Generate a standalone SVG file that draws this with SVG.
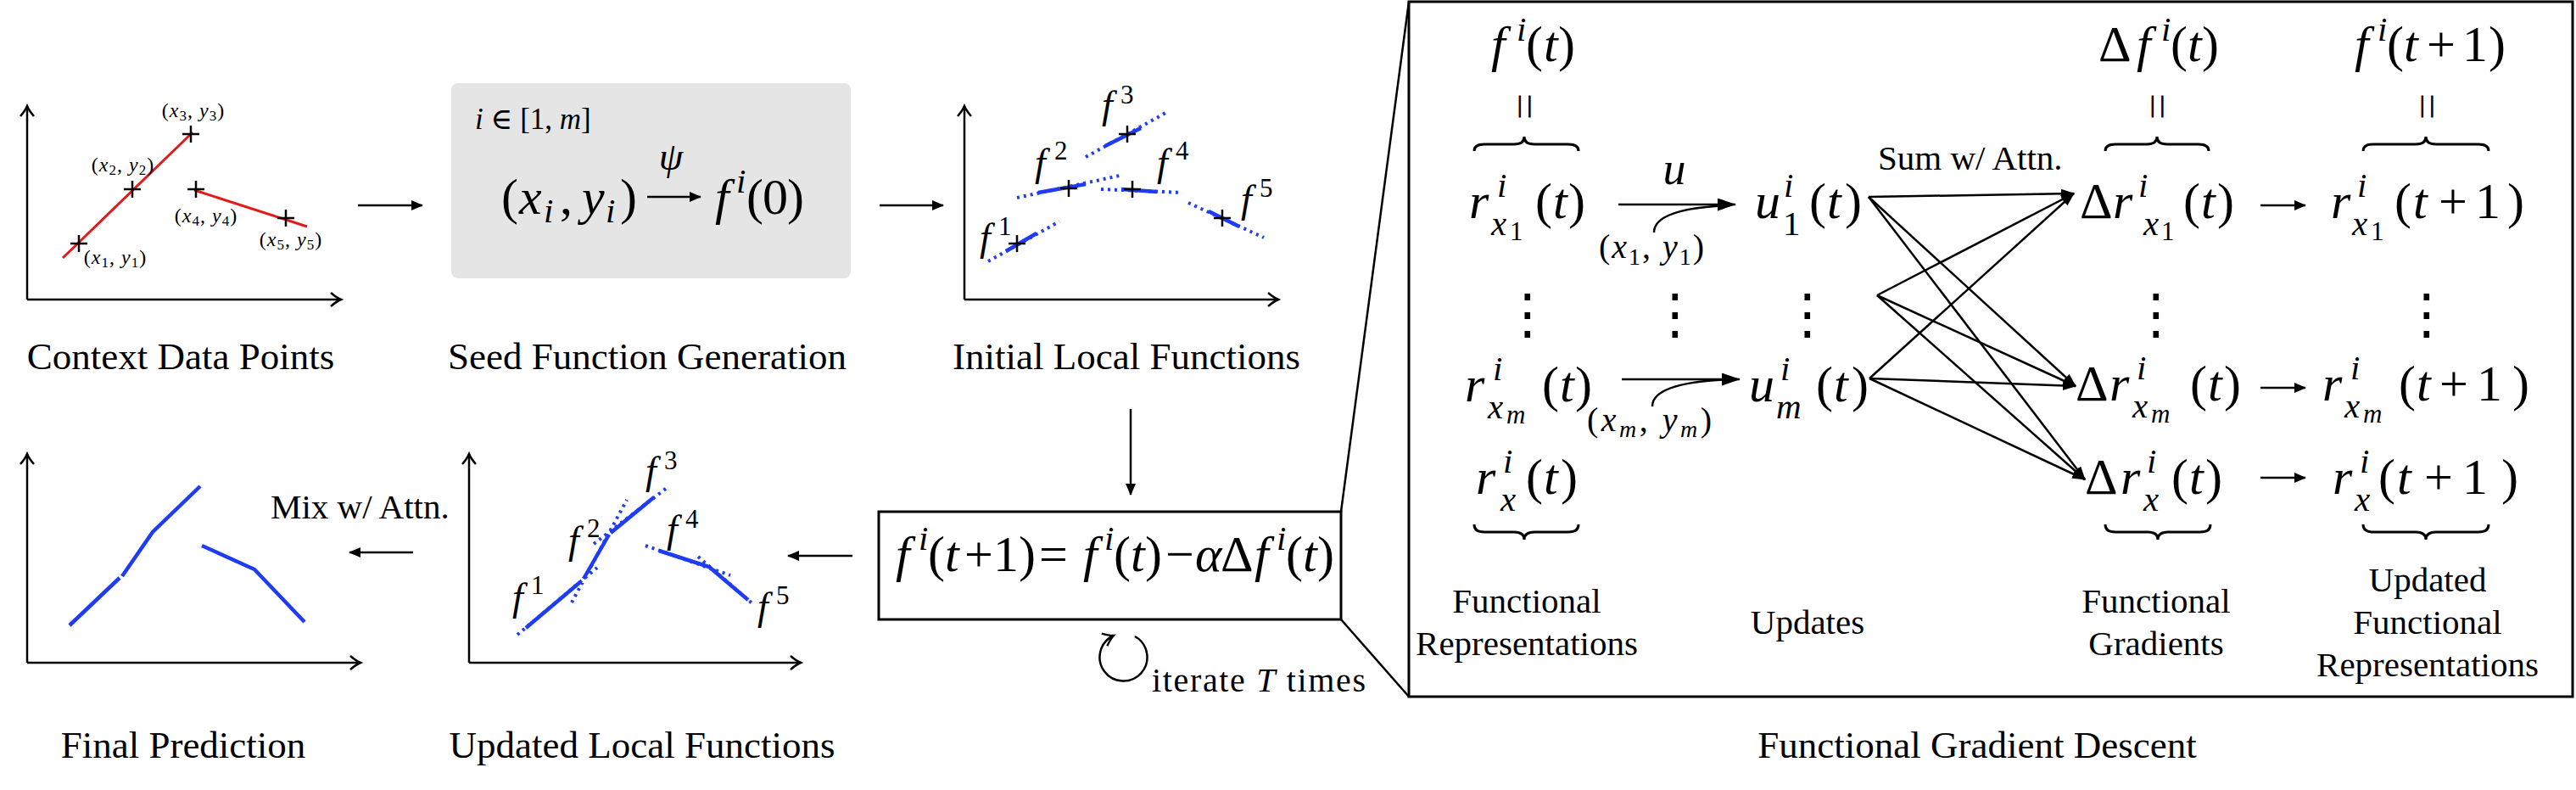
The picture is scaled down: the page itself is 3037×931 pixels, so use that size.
<svg xmlns="http://www.w3.org/2000/svg" width="3037" height="931" viewBox="0 0 3037 931">
<defs>
<style>
.t{font-family:"Liberation Serif","DejaVu Serif",serif;fill:#000}
.lbl{font-size:45px}
.lb41{font-size:41px}
.m{font-size:60px}
.s{font-size:41px}
.ss{font-size:31px}
.mi{font-style:italic}
.ax{stroke:#000;stroke-width:2.5;fill:none;marker-end:url(#axh)}
.ln{stroke:#000;stroke-width:2.5;fill:none}
.cr{stroke:#000;stroke-width:2.5;fill:none}
.red{stroke:#e31a1a;stroke-width:3;fill:none}
.dot{stroke:#1f3cf5;stroke-width:4;stroke-dasharray:3 5;fill:none}
.sol{stroke:#1f3cf5;stroke-width:4.5;fill:none}
.brace{stroke:#000;stroke-width:3;fill:none}
.vd{font-family:"DejaVu Sans",sans-serif;font-size:64px}
.par{font-family:"Liberation Serif",serif;font-size:28px;letter-spacing:6px;stroke:#000;stroke-width:1}
</style>
<marker id="axh" viewBox="-14 -10 16 20" refX="0" refY="0" markerWidth="16" markerHeight="20" markerUnits="userSpaceOnUse" orient="auto" overflow="visible"><path d="M-12,-8 Q-5,-2 0,0 Q-5,2 -12,8" fill="none" stroke="#000" stroke-width="2.5"/></marker>
<marker id="ah" viewBox="0 0 14 12" refX="13" refY="6" markerWidth="14" markerHeight="12" markerUnits="userSpaceOnUse" orient="auto"><path d="M0,0 L14,6 L0,12 Z" fill="#000"/></marker>
<marker id="ahL" viewBox="0 0 22 15" refX="21" refY="7.5" markerWidth="22" markerHeight="15" markerUnits="userSpaceOnUse" orient="auto"><path d="M0,0 L22,7.5 L0,15 Z" fill="#000"/></marker>
<marker id="ahS" viewBox="0 0 16 11" refX="15" refY="5.5" markerWidth="16" markerHeight="11" markerUnits="userSpaceOnUse" orient="auto"><path d="M0,0 L16,5.5 L0,11 Z" fill="#000"/></marker>
<marker id="ahO" viewBox="-14 -10 16 20" refX="0" refY="0" markerWidth="16" markerHeight="20" markerUnits="userSpaceOnUse" orient="auto" overflow="visible"><path d="M-12,-8 Q-5,-2 0,0 Q-5,2 -12,8" fill="none" stroke="#000" stroke-width="2.5"/></marker>
</defs>
<rect x="0" y="0" width="3037" height="931" fill="#fff"/>

<!-- Context Data Points -->
<g id="plot-context">
<path class="ax" d="M32,353 V125"/>
<path class="ax" d="M32,353 H402"/>
<path class="red" d="M74,304 L227,156"/>
<path class="red" d="M229,224 L362,267"/>
<path class="cr" d="M83,287 h20 M93,277 v20 M146,223 h20 M156,213 v20 M215,158 h20 M225,148 v20 M221,223 h20 M231,213 v20 M327,257 h20 M337,247 v20"/>
<g class="t" font-size="24" text-anchor="middle" letter-spacing="1">
<text x="228" y="138">(<tspan font-style="italic">x</tspan><tspan dy="4" font-size="17">3</tspan><tspan dy="-4">, </tspan><tspan font-style="italic">y</tspan><tspan dy="4" font-size="17">3</tspan><tspan dy="-4">)</tspan></text>
<text x="145" y="202">(<tspan font-style="italic">x</tspan><tspan dy="4" font-size="17">2</tspan><tspan dy="-4">, </tspan><tspan font-style="italic">y</tspan><tspan dy="4" font-size="17">2</tspan><tspan dy="-4">)</tspan></text>
<text x="243" y="262">(<tspan font-style="italic">x</tspan><tspan dy="4" font-size="17">4</tspan><tspan dy="-4">, </tspan><tspan font-style="italic">y</tspan><tspan dy="4" font-size="17">4</tspan><tspan dy="-4">)</tspan></text>
<text x="136" y="311">(<tspan font-style="italic">x</tspan><tspan dy="4" font-size="17">1</tspan><tspan dy="-4">, </tspan><tspan font-style="italic">y</tspan><tspan dy="4" font-size="17">1</tspan><tspan dy="-4">)</tspan></text>
<text x="343" y="290">(<tspan font-style="italic">x</tspan><tspan dy="4" font-size="17">5</tspan><tspan dy="-4">, </tspan><tspan font-style="italic">y</tspan><tspan dy="4" font-size="17">5</tspan><tspan dy="-4">)</tspan></text>
</g>
<text class="t lbl" x="213" y="435" text-anchor="middle">Context Data Points</text>
</g>

<!-- Seed Function Generation -->
<g id="seed">
<rect x="532" y="98" width="471" height="230" rx="8" fill="#e5e5e5"/>
<text class="t" font-size="35" x="560" y="152"><tspan font-style="italic">i</tspan> ∈ [1, <tspan font-style="italic">m</tspan>]</text>
<text class="t m"><tspan x="591" y="252">(</tspan><tspan class="mi" x="612" y="252">x</tspan><tspan class="s mi" x="641" y="262">i</tspan><tspan x="660" y="252">,</tspan><tspan class="mi" x="686" y="252">y</tspan><tspan class="s mi" x="714" y="262">i</tspan><tspan x="731" y="252">)</tspan></text>
<text class="t mi" font-size="46" x="791" y="200" text-anchor="middle">ψ</text>
<text class="t m"><tspan class="mi" x="843" y="252">f</tspan><tspan class="s mi" x="868" y="227">i</tspan><tspan x="880" y="252">(</tspan><tspan x="899" y="252">0</tspan><tspan x="928" y="252">)</tspan></text>
<text class="t lbl" x="763" y="435" text-anchor="middle">Seed Function Generation</text>
</g>

<!-- Initial Local Functions -->
<g id="plot-initial">
<path class="ax" d="M1137,353 V125"/>
<path class="ax" d="M1137,353 H1507"/>
<path class="dot" d="M1165,308 L1249,261 M1199,233 L1320,207 M1280,185 L1378,131 M1298,223 L1394,227 M1401,239 L1490,280"/>
<path class="sol" d="M1186,296 L1222,275 M1224,227 L1280,217 M1303,172 L1345,151 M1322,223 L1364,226 M1425,249 L1461,267"/>
<path class="cr" d="M1189,287 h20 M1199,277 v20 M1250,222 h20 M1260,212 v20 M1319,158 h20 M1329,148 v20 M1325,223 h20 M1335,213 v20 M1431,257 h20 M1441,247 v20"/>
<g class="t">
<text font-size="46" font-style="italic" x="1155" y="295">f</text><text font-size="31" x="1177" y="277">1</text>
<text font-size="46" font-style="italic" x="1220" y="207">f</text><text font-size="31" x="1243" y="188">2</text>
<text font-size="46" font-style="italic" x="1299" y="139">f</text><text font-size="31" x="1321" y="122">3</text>
<text font-size="46" font-style="italic" x="1364" y="207">f</text><text font-size="31" x="1386" y="188">4</text>
<text font-size="46" font-style="italic" x="1463" y="250">f</text><text font-size="31" x="1485" y="232">5</text>
</g>
<text class="t lbl" x="1328" y="435" text-anchor="middle">Initial Local Functions</text>
</g>

<!-- Final Prediction -->
<g id="plot-final">
<path class="ax" d="M32,781 V535"/>
<path class="ax" d="M32,781 H425"/>
<path class="sol" d="M82,737 L141,681 M144,679 L180,627 L236,573 M238,643 L300,671 L359,733"/>
<text class="t lbl" x="216" y="893" text-anchor="middle">Final Prediction</text>
</g>
<text id="mix-label" class="t" font-size="41" x="319" y="611">Mix w/ Attn.</text>

<!-- Updated Local Functions -->
<g id="plot-updated">
<path class="ax" d="M553,781 V535"/>
<path class="ax" d="M553,781 H944"/>
<path class="dot" d="M610,748 L704,669 M674,710 L739,589 M700,641 L786,575 M761,643 L861,678 M823,656 L889,713"/>
<path class="sol" d="M620,740 L684,686 M688,682 L718,630 M720,628 L771,586 M777,649 L836,668 L882,707"/>
<g class="t">
<text font-size="46" font-style="italic" x="604" y="719">f</text><text font-size="31" x="626" y="700">1</text>
<text font-size="46" font-style="italic" x="670" y="652">f</text><text font-size="31" x="692" y="633">2</text>
<text font-size="46" font-style="italic" x="761" y="570">f</text><text font-size="31" x="783" y="553">3</text>
<text font-size="46" font-style="italic" x="786" y="639">f</text><text font-size="31" x="808" y="622">4</text>
<text font-size="46" font-style="italic" x="893" y="730">f</text><text font-size="31" x="915" y="712">5</text>
</g>
<text class="t lbl" x="757" y="893" text-anchor="middle">Updated Local Functions</text>
</g>

<!-- Update rule box -->
<g id="update-box">
<rect x="1036" y="603" width="545" height="127" fill="#fff" stroke="#000" stroke-width="3"/>
<text class="t m"><tspan class="mi" x="1056" y="673">f</tspan><tspan class="s mi" x="1083" y="648">i</tspan><tspan x="1094" y="673">(</tspan><tspan class="mi" x="1114" y="673">t</tspan><tspan x="1137" y="673">+</tspan><tspan x="1171" y="673">1</tspan><tspan x="1201" y="673">)</tspan><tspan x="1225" y="673">=</tspan><tspan class="mi" x="1277" y="673">f</tspan><tspan class="s mi" x="1302" y="648">i</tspan><tspan x="1313" y="673">(</tspan><tspan class="mi" x="1333" y="673">t</tspan><tspan x="1350" y="673">)</tspan><tspan x="1374" y="673">−</tspan><tspan class="mi" x="1409" y="673">α</tspan><tspan x="1439" y="673">Δ</tspan><tspan class="mi" x="1479" y="673">f</tspan><tspan class="s mi" x="1505" y="648">i</tspan><tspan x="1516" y="673">(</tspan><tspan class="mi" x="1536" y="673">t</tspan><tspan x="1553" y="673">)</tspan></text>
</g>
<g id="iterate">
<path d="M1338,750 A28,28 0 1 1 1313,749" fill="none" stroke="#000" stroke-width="2.5" marker-end="url(#ahO)"/>
<text class="t" font-size="40" x="1358" y="815" textLength="252" lengthAdjust="spacing">iterate <tspan font-style="italic">T</tspan> times</text>
</g>

<!-- Functional Gradient Descent box -->
<g id="fgd-box">
<rect x="1661" y="2" width="1372" height="819" fill="none" stroke="#000" stroke-width="3"/>
<text class="t lbl" x="2331" y="893" text-anchor="middle">Functional Gradient Descent</text>
</g>

<!-- headers -->
<g id="hdr-f">
<text class="t m"><tspan class="mi" x="1758" y="72">f</tspan><tspan class="s mi" x="1788" y="48">i</tspan><tspan x="1799" y="72">(</tspan><tspan class="mi" x="1820" y="72">t</tspan><tspan x="1837" y="72">)</tspan></text>
<text class="par" x="1789" y="132">||</text>
<path class="brace" d="M1738,178 Q1738,170 1750,170 L1785,170 Q1797,170 1797,161 Q1797,170 1809,170 L1849,170 Q1861,170 1861,178"/>
</g>
<g id="hdr-df">
<text class="t m"><tspan x="2474" y="72">Δ</tspan><tspan class="mi" x="2519" y="72">f</tspan><tspan class="s mi" x="2548" y="48">i</tspan><tspan x="2559" y="72">(</tspan><tspan class="mi" x="2579" y="72">t</tspan><tspan x="2596" y="72">)</tspan></text>
<text class="par" x="2535" y="132">||</text>
<path class="brace" d="M2482,178 Q2482,170 2494,170 L2531,170 Q2543,170 2543,161 Q2543,170 2555,170 L2592,170 Q2604,170 2604,178"/>
</g>
<g id="hdr-f1">
<text class="t m"><tspan class="mi" x="2776" y="72">f</tspan><tspan class="s mi" x="2803" y="48">i</tspan><tspan x="2814" y="72">(</tspan><tspan class="mi" x="2834" y="72">t</tspan><tspan x="2861" y="72">+</tspan><tspan x="2903" y="72">1</tspan><tspan x="2934" y="72">)</tspan></text>
<text class="par" x="2853" y="132">||</text>
<path class="brace" d="M2786,178 Q2786,170 2798,170 L2848,170 Q2860,170 2860,161 Q2860,170 2872,170 L2922,170 Q2934,170 2934,178"/>
</g>

<!-- row 1 -->
<g id="n-r1">
<text class="t m"><tspan class="mi" x="1732" y="257">r</tspan><tspan class="s mi" x="1765" y="232">i</tspan><tspan class="s mi" x="1758" y="277">x</tspan><tspan class="ss" x="1780" y="283">1</tspan><tspan x="1810" y="257">(</tspan><tspan class="mi" x="1831" y="257">t</tspan><tspan x="1849" y="257">)</tspan></text>
</g>
<g id="n-u1">
<text class="t m"><tspan class="mi" x="2069" y="257">u</tspan><tspan class="s mi" x="2103" y="232">i</tspan><tspan class="s" x="2102" y="277">1</tspan><tspan x="2133" y="257">(</tspan><tspan class="mi" x="2154" y="257">t</tspan><tspan x="2175" y="257">)</tspan></text>
</g>
<g id="n-dr1">
<text class="t m"><tspan x="2452" y="257">Δ</tspan><tspan class="mi" x="2491" y="257">r</tspan><tspan class="s mi" x="2521" y="232">i</tspan><tspan class="s mi" x="2527" y="277">x</tspan><tspan class="ss" x="2548" y="283">1</tspan><tspan x="2574" y="257">(</tspan><tspan class="mi" x="2595" y="257">t</tspan><tspan x="2614" y="257">)</tspan></text>
</g>
<g id="n-rn1">
<text class="t m"><tspan class="mi" x="2748" y="257">r</tspan><tspan class="s mi" x="2779" y="232">i</tspan><tspan class="s mi" x="2773" y="277">x</tspan><tspan class="ss" x="2795" y="283">1</tspan><tspan x="2823" y="257">(</tspan><tspan class="mi" x="2845" y="257">t</tspan><tspan x="2875" y="257">+</tspan><tspan x="2918" y="257">1</tspan><tspan x="2956" y="257">)</tspan></text>
</g>

<!-- vdots -->
<g id="vdots" class="vd" text-anchor="middle">
<text x="1801" y="392">⋮</text>
<text x="1975" y="392">⋮</text>
<text x="2131" y="392">⋮</text>
<text x="2542" y="392">⋮</text>
<text x="2861" y="392">⋮</text>
</g>

<!-- row m -->
<g id="n-rm">
<text class="t m"><tspan class="mi" x="1727" y="473">r</tspan><tspan class="s mi" x="1760" y="448">i</tspan><tspan class="s mi" x="1754" y="493">x</tspan><tspan class="ss mi" x="1776" y="499">m</tspan><tspan x="1818" y="473">(</tspan><tspan class="mi" x="1839" y="473">t</tspan><tspan x="1857" y="473">)</tspan></text>
</g>
<g id="n-um">
<text class="t m"><tspan class="mi" x="2062" y="473">u</tspan><tspan class="s mi" x="2099" y="448">i</tspan><tspan class="s mi" x="2094" y="493">m</tspan><tspan x="2141" y="473">(</tspan><tspan class="mi" x="2162" y="473">t</tspan><tspan x="2183" y="473">)</tspan></text>
</g>
<g id="n-drm">
<text class="t m"><tspan x="2447" y="472">Δ</tspan><tspan class="mi" x="2487" y="472">r</tspan><tspan class="s mi" x="2519" y="447">i</tspan><tspan class="s mi" x="2514" y="492">x</tspan><tspan class="ss mi" x="2536" y="498">m</tspan><tspan x="2582" y="472">(</tspan><tspan class="mi" x="2603" y="472">t</tspan><tspan x="2622" y="472">)</tspan></text>
</g>
<g id="n-rnm">
<text class="t m"><tspan class="mi" x="2738" y="472">r</tspan><tspan class="s mi" x="2771" y="447">i</tspan><tspan class="s mi" x="2764" y="492">x</tspan><tspan class="ss mi" x="2786" y="498">m</tspan><tspan x="2828" y="472">(</tspan><tspan class="mi" x="2849" y="472">t</tspan><tspan x="2876" y="472">+</tspan><tspan x="2920" y="472">1</tspan><tspan x="2962" y="472">)</tspan></text>
</g>

<!-- row x -->
<g id="n-rx">
<text class="t m"><tspan class="mi" x="1740" y="582">r</tspan><tspan class="s mi" x="1772" y="557">i</tspan><tspan class="s mi" x="1769" y="602">x</tspan><tspan x="1799" y="582">(</tspan><tspan class="mi" x="1820" y="582">t</tspan><tspan x="1840" y="582">)</tspan></text>
<path class="brace" d="M1738,618 Q1738,627 1750,627 L1785,627 Q1797,627 1797,636 Q1797,627 1809,627 L1849,627 Q1861,627 1861,618"/>
</g>
<g id="n-drx">
<text class="t m"><tspan x="2458" y="582">Δ</tspan><tspan class="mi" x="2500" y="582">r</tspan><tspan class="s mi" x="2531" y="557">i</tspan><tspan class="s mi" x="2527" y="602">x</tspan><tspan x="2560" y="582">(</tspan><tspan class="mi" x="2581" y="582">t</tspan><tspan x="2600" y="582">)</tspan></text>
<path class="brace" d="M2482,618 Q2482,627 2494,627 L2532,627 Q2544,627 2544,636 Q2544,627 2556,627 L2594,627 Q2606,627 2606,618"/>
</g>
<g id="n-rnx">
<text class="t m"><tspan class="mi" x="2750" y="582">r</tspan><tspan class="s mi" x="2782" y="557">i</tspan><tspan class="s mi" x="2776" y="602">x</tspan><tspan x="2804" y="582">(</tspan><tspan class="mi" x="2826" y="582">t</tspan><tspan x="2858" y="582">+</tspan><tspan x="2903" y="582">1</tspan><tspan x="2949" y="582">)</tspan></text>
<path class="brace" d="M2786,618 Q2786,627 2798,627 L2848,627 Q2860,627 2860,636 Q2860,627 2872,627 L2922,627 Q2934,627 2934,618"/>
</g>

<!-- column captions -->
<g id="cap-rep" class="t lb41" text-anchor="middle">
<text x="1800" y="722">Functional</text>
<text x="1800" y="772">Representations</text>
</g>
<text id="cap-upd" class="t lb41" x="2131" y="747" text-anchor="middle">Updates</text>
<g id="cap-grad" class="t lb41" text-anchor="middle">
<text x="2542" y="722">Functional</text>
<text x="2542" y="772">Gradients</text>
</g>
<g id="cap-updrep" class="t lb41" text-anchor="middle">
<text x="2862" y="697">Updated</text>
<text x="2862" y="747">Functional</text>
<text x="2862" y="797">Representations</text>
</g>
<text id="sum-label" class="t lb41" x="2214" y="200">Sum w/ Attn.</text>

<!-- edge labels -->
<text class="t mi" font-size="54" x="1974" y="217" text-anchor="middle">u</text>
<text class="t" font-size="40" x="1885" y="304" letter-spacing="2">(<tspan font-style="italic">x</tspan><tspan dy="8" font-size="28">1</tspan><tspan dy="-8">, </tspan><tspan font-style="italic">y</tspan><tspan dy="8" font-size="28">1</tspan><tspan dy="-8">)</tspan></text>
<text class="t" font-size="40" x="1871" y="508" letter-spacing="3.5">(<tspan font-style="italic">x</tspan><tspan dy="7" font-size="28" font-style="italic">m</tspan><tspan dy="-7">, </tspan><tspan font-style="italic">y</tspan><tspan dy="7" font-size="28" font-style="italic">m</tspan><tspan dy="-7">)</tspan></text>

<!-- connectors -->
<g id="connectors">
<line class="ln" x1="422" y1="242" x2="498" y2="242" marker-end="url(#ah)"/>
<line class="ln" x1="1037" y1="242" x2="1112" y2="242" marker-end="url(#ah)"/>
<line class="ln" x1="763" y1="232" x2="826" y2="232" marker-end="url(#ah)"/>
<line class="ln" x1="1333" y1="482" x2="1333" y2="583" marker-end="url(#ah)"/>
<line class="ln" x1="1005" y1="655" x2="929" y2="655" marker-end="url(#ah)"/>
<line class="ln" x1="487" y1="651" x2="412" y2="651" marker-end="url(#ah)"/>
<line class="ln" x1="1581" y1="603" x2="1661" y2="2"/>
<line class="ln" x1="1581" y1="730" x2="1661" y2="821"/>
<line class="ln" x1="1908" y1="241" x2="2046" y2="241" marker-end="url(#ahL)"/>
<path class="ln" d="M1950,274 C1950,252 1990,244 2038,242"/>
<line class="ln" x1="1912" y1="447" x2="2051" y2="447" marker-end="url(#ahL)"/>
<path class="ln" d="M1948,479 C1948,457 1990,449 2042,447"/>
<g class="ln" marker-end="url(#ahS)">
<line x1="2203" y1="232" x2="2445" y2="228"/>
<line x1="2203" y1="232" x2="2447" y2="455"/>
<line x1="2203" y1="232" x2="2458" y2="565"/>
<line x1="2213" y1="348" x2="2445" y2="228"/>
<line x1="2213" y1="348" x2="2447" y2="455"/>
<line x1="2213" y1="348" x2="2458" y2="565"/>
<line x1="2204" y1="446" x2="2445" y2="228"/>
<line x1="2204" y1="446" x2="2447" y2="455"/>
<line x1="2204" y1="446" x2="2458" y2="565"/>
</g>
<line class="ln" x1="2665" y1="242" x2="2718" y2="242" marker-end="url(#ah)"/>
<line class="ln" x1="2665" y1="457" x2="2718" y2="457" marker-end="url(#ah)"/>
<line class="ln" x1="2665" y1="563" x2="2718" y2="563" marker-end="url(#ah)"/>
</g>
</svg>
